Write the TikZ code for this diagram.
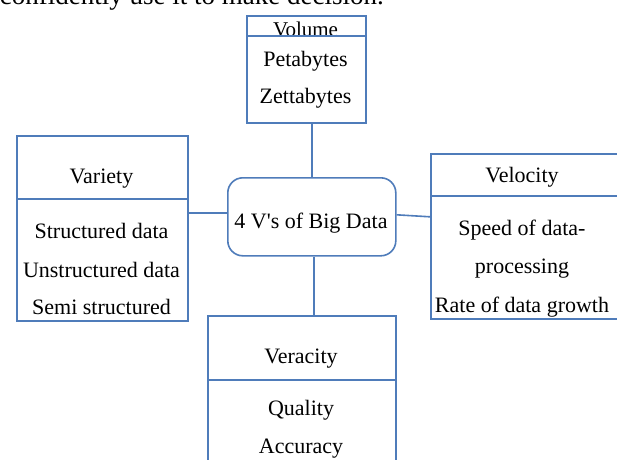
\documentclass[tikz,border=0pt]{standalone}
\usepackage{fontspec}
\setmainfont{Liberation Serif}
\begin{document}
\begin{tikzpicture}[x=1pt,y=-1pt,
  boxline/.style={draw=boxblue,line width=1.6pt},
  vbox/.style={boxline,rectangle,inner sep=0pt,anchor=north west},
  lbl/.style={anchor=base,inner sep=0pt,font=\fontsize{22}{26}\selectfont,text=black},
  conn/.style={draw=boxblue,line width=1.6pt}]
\definecolor{boxblue}{RGB}{79,124,186}
\useasboundingbox (0,0) rectangle (617,459);
\clip (0,0) rectangle (617,459);
\fill[white] (0,0) rectangle (617,459);
% top text (cut off)
\node[anchor=base east,inner sep=0pt,font=\fontsize{27}{30}\selectfont] (toptext) at (384,4) {confidently use it to make decision.};
% boxes
\node[vbox,minimum width=119pt,minimum height=107pt] (vol) at (246,15) {};
\node[vbox,minimum width=171pt,minimum height=185pt] (var) at (16,135) {};
\node[vbox,minimum width=195pt,minimum height=165pt] (vel) at (430,153) {};
\node[vbox,minimum width=188pt,minimum height=160pt] (ver) at (207,315) {};
\node[boxline,rectangle,rounded corners=15pt,inner sep=0pt,minimum width=168pt,minimum height=78pt,anchor=north west] (cen) at (227,177) {};
% dividers
\draw[boxline] (var.west |- 0,199) -- (var.east |- 0,199);
\draw[boxline] (vel.west |- 0,196) -- (vel.east |- 0,196);
\draw[boxline] (ver.west |- 0,380) -- (ver.east |- 0,380);
% texts
\node[lbl,font=\fontsize{21}{24}\selectfont] (volt) at (305.5,36) {Volume};
\draw[boxline] (vol.west |- 0,36) -- (vol.east |- 0,36);
\node[lbl] (pb) at (305.5,66) {Petabytes};
\node[lbl] (zb) at (305.5,103) {Zettabytes};
\node[lbl] (vart) at (101.5,183) {Variety};
\node[lbl] (v1) at (101.5,238) {Structured data};
\node[lbl] (v2) at (101.5,277) {Unstructured data};
\node[lbl] (v3) at (101.5,314) {Semi structured};
\node[lbl] (cent) at (311,228) {4 V\textquotesingle s of Big Data};
\node[lbl] (velt) at (522,182) {Velocity};
\node[lbl] (e1) at (522,235) {Speed of data-};
\node[lbl] (e2) at (522,273) {processing};
\node[lbl] (e3) at (522,312) {Rate of data growth};
\node[lbl] (vert) at (301,363) {Veracity};
\node[lbl] (r1) at (301,415) {Quality};
\node[lbl] (r2) at (301,453) {Accuracy};
% connectors
\draw[conn] (cen.north) -- (cen.north |- vol.south);
\draw[conn] ([yshift=4pt]cen.west) -- ([yshift=4pt]cen.west -| var.east);
\draw[conn] ([yshift=2pt]cen.east) -- ([yshift=0pt]cen.east -| vel.west);
\draw[conn] ([xshift=2pt]cen.south) -- ([xshift=2pt]cen.south |- ver.north);
\end{tikzpicture}
\end{document}
